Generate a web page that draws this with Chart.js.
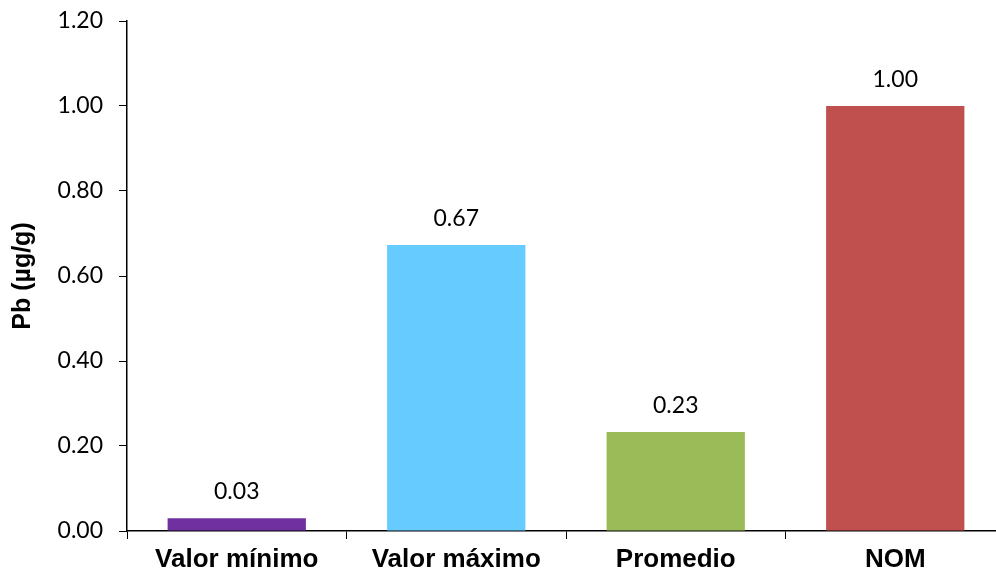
<!DOCTYPE html>
<html lang="es">
<head>
<meta charset="UTF-8">
<title>Pb</title>
<script src="https://cdn.jsdelivr.net/npm/chart.js"></script>
<style>
  html, body { margin:0; padding:0; overflow:hidden; background:#fff; }
  #wrap { position:absolute; left:0; top:0; width:1010px; height:575px; }
</style>
</head>
<body>
<div id="wrap"><canvas id="pbChart"></canvas></div>
<script>
const categories = ['Valor mínimo', 'Valor máximo', 'Promedio', 'NOM'];
const pbValues = [0.03, 0.673, 0.233, 1.00];
const barColors = ['#7030A0', '#66CCFF', '#9BBB59', '#C0504D'];
const yTicks = [0, 0.2, 0.4, 0.6, 0.8, 1.0, 1.2];

const numFont = "Lato, 'Open Sans', sans-serif";
const boldFont = "'Liberation Sans', Arial, sans-serif";

// value labels above each bar
const valueLabels = {
  id: 'valueLabels',
  afterDatasetsDraw(chart) {
    const ctx = chart.ctx;
    const meta = chart.getDatasetMeta(0);
    ctx.save();
    ctx.font = '23px ' + numFont;
    ctx.fillStyle = '#000';
    ctx.textAlign = 'center';
    ctx.textBaseline = 'alphabetic';
    meta.data.forEach((bar, i) => {
      ctx.fillText(pbValues[i].toFixed(2), bar.x, bar.y - 19);
    });
    ctx.restore();
  }
};

new Chart(document.getElementById('pbChart'), {
  type: 'bar',
  data: {
    labels: categories,
    datasets: [{
      label: 'Pb (µg/g)',
      data: pbValues,
      backgroundColor: barColors,
      borderWidth: 0,
      barPercentage: 0.63,
      categoryPercentage: 1.0
    }]
  },
  options: {
    responsive: true,
    maintainAspectRatio: false,
    animation: false,
    layout: { padding: { top: 21, right: 5, left: 0, bottom: 0 } },
    plugins: {
      legend: { display: false },
      tooltip: { enabled: false }
    },
    scales: {
      x: {
        grid: { drawOnChartArea: false, drawTicks: true, tickLength: 8, color: '#000', offset: true },
        border: { color: '#000', width: 1.5 },
        ticks: {
          color: '#000',
          padding: 5,
          font: { family: boldFont, size: 26, weight: 'bold' }
        },
        afterFit(scale) { scale.height = 44; scale.paddingLeft = 0; scale.paddingRight = 0; }
      },
      y: {
        min: 0,
        max: 1.2,
        afterBuildTicks(scale) { scale.ticks = yTicks.map(v => ({ value: v })); },
        grid: { drawOnChartArea: false, drawTicks: true, tickLength: 8, color: '#000' },
        border: { color: '#000', width: 1.5 },
        ticks: {
          color: '#000',
          padding: 16,
          font: { family: numFont, size: 23 },
          callback: v => Number(v).toFixed(2)
        },
        title: {
          display: true,
          text: 'Pb (µg/g)',
          color: '#000',
          padding: { top: 8, bottom: 0 },
          font: { family: boldFont, size: 25, weight: 'bold' }
        },
        afterFit(scale) { scale.width = 127; scale.paddingTop = 0; scale.paddingBottom = 0; }
      }
    }
  },
  plugins: [valueLabels]
});
</script>
</body>
</html>
